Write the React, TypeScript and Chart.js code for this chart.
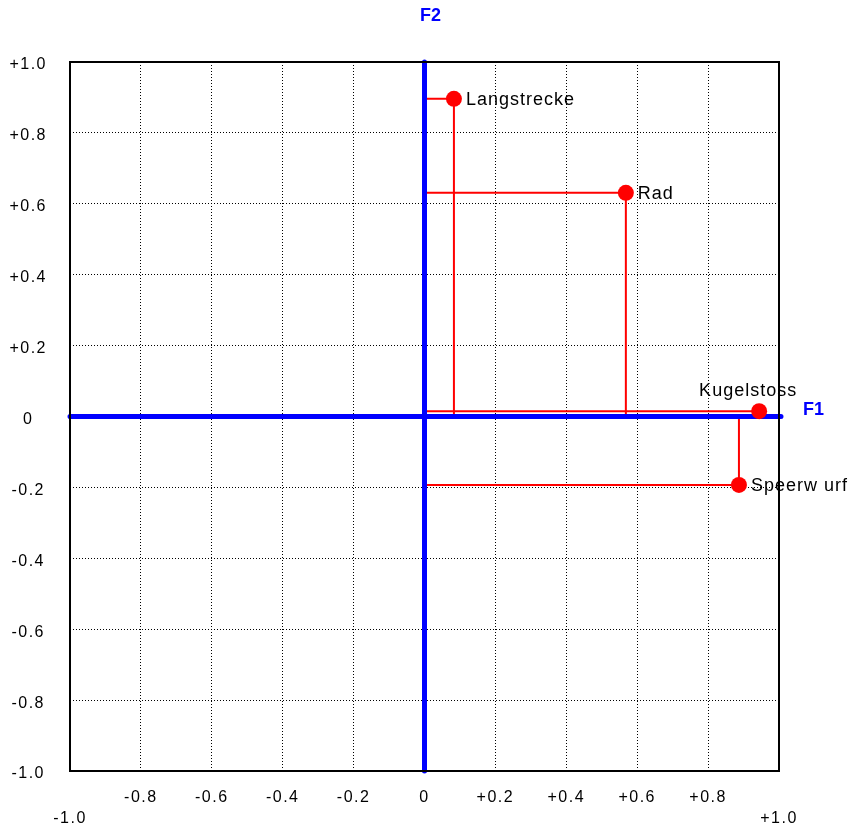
import React, { useEffect, useRef } from "react";
import { Chart, registerables } from "chart.js";

Chart.register(...registerables);

const variableNames: string[] = ["Langstrecke", "Rad", "Kugelstoss", "Speerw urf"];
const f1Loadings: number[] = [0.083, 0.568, 0.944, 0.887];
const f2Loadings: number[] = [0.896, 0.631, 0.015, -0.193];
const labelPlacement: string[] = ["right", "right", "above", "right"];
const axisTitles: string[] = ["F1", "F2"];

const FONT = '"Liberation Sans", Arial, sans-serif';

function fmt(v: number): string {
  if (Math.abs(v) < 1e-9) return "0";
  const s = Math.abs(v).toFixed(1);
  return v > 0 ? "+" + s : "-" + s;
}

const isEdge = (v: number) => Math.abs(Math.abs(v) - 1) < 1e-9;

const decorPlugin = {
  id: "decor",
  beforeDraw(chart: any) {
    chart.ctx.letterSpacing = "1.5px";
  },
  beforeDatasetDraw(chart: any, args: any) {
    if (args.index !== 0) return;
    const { ctx, chartArea, scales } = chart;
    const x0 = scales.x.getPixelForValue(0);
    const y0 = scales.y.getPixelForValue(0);
    ctx.save();
    ctx.strokeStyle = "#0000FF";
    ctx.lineWidth = 5;
    ctx.lineCap = "round";
    ctx.beginPath();
    ctx.moveTo(x0, chartArea.top);
    ctx.lineTo(x0, chartArea.bottom);
    ctx.moveTo(chartArea.left, y0);
    ctx.lineTo(chartArea.right + 2, y0);
    ctx.stroke();
    ctx.restore();
  },
  afterDatasetsDraw(chart: any) {
    const { ctx, chartArea, scales } = chart;
    ctx.save();
    // plot border
    ctx.letterSpacing = "0px";
    ctx.strokeStyle = "#000";
    ctx.lineWidth = 2;
    ctx.strokeRect(chartArea.left, chartArea.top, chartArea.right - chartArea.left, chartArea.bottom - chartArea.top);

    // point labels
    const meta = chart.getDatasetMeta(0);
    ctx.fillStyle = "#000";
    ctx.font = "18px " + FONT;
    ctx.letterSpacing = "1px";
    ctx.textBaseline = "alphabetic";
    meta.data.forEach((pt: any, i: number) => {
      const name = variableNames[i];
      if (labelPlacement[i] === "above") {
        ctx.textAlign = "center";
        ctx.fillText(name, pt.x - 11, pt.y - 15);
      } else {
        ctx.textAlign = "left";
        ctx.fillText(name, pt.x + 12, pt.y + 6);
      }
    });

    // axis titles
    ctx.fillStyle = "#0000FF";
    ctx.font = "bold 18px " + FONT;
    ctx.letterSpacing = "0px";
    ctx.textAlign = "center";
    const x0 = scales.x.getPixelForValue(0);
    const y0 = scales.y.getPixelForValue(0);
    ctx.fillText(axisTitles[1], x0 + 6, chartArea.top - 41);
    ctx.textAlign = "left";
    ctx.fillText(axisTitles[0], chartArea.right + 24, y0 - 2);
    ctx.restore();
  },
  afterDraw(chart: any) {
    chart.ctx.letterSpacing = "0px";
  },
};

export default function App() {
  const canvasRef = useRef<HTMLCanvasElement | null>(null);

  useEffect(() => {
    const canvas = canvasRef.current;
    if (!canvas) return;
    Chart.defaults.font.family = FONT;
    Chart.defaults.color = "#000";

    const pointData = f1Loadings.map((x, i) => ({ x, y: f2Loadings[i] }));
    const lineSets = f1Loadings.map((x, i) => ({
      type: "line" as const,
      data: [
        { x: 0, y: f2Loadings[i] },
        { x, y: f2Loadings[i] },
        { x, y: 0 },
      ],
      borderColor: "#FF0000",
      borderWidth: 2,
      pointRadius: 0,
      pointHoverRadius: 0,
      tension: 0,
      fill: false,
    }));

    const chart = new Chart(canvas, {
      type: "scatter",
      data: {
        datasets: [
          {
            data: pointData,
            backgroundColor: "#FF0000",
            borderColor: "#FF0000",
            borderWidth: 0,
            pointRadius: 8,
            pointHoverRadius: 8,
          } as any,
          ...(lineSets as any[]),
        ],
      },
      options: {
        responsive: false,
        animation: false,
        events: [],
        layout: { padding: { left: 0, top: 62, right: 69, bottom: 0 } },
        plugins: {
          legend: { display: false },
          tooltip: { enabled: false },
          title: { display: false },
        },
        scales: {
          x: {
            type: "linear",
            position: "bottom",
            min: -1,
            max: 1,
            afterFit: (s: any) => {
              s.height = 58;
            },
            border: { display: false, dash: [1, 2] },
            grid: {
              drawTicks: false,
              lineWidth: 1,
              color: (c: any) => (c.tick && isEdge(c.tick.value) ? "rgba(0,0,0,0)" : "#000"),
            },
            ticks: {
              stepSize: 0.2,
              padding: 16,
              maxRotation: 0,
              autoSkip: false,
              font: { size: 16, family: FONT, lineHeight: 1.3 },
              color: "#000",
              callback: (v: any) => {
                const n = Number(v);
                return isEdge(n) ? ["", fmt(n)] : fmt(n);
              },
            },
          },
          y: {
            type: "linear",
            position: "left",
            min: -1,
            max: 1,
            afterFit: (s: any) => {
              s.width = 70;
            },
            border: { display: false, dash: [1, 2] },
            grid: {
              drawTicks: false,
              lineWidth: 1,
              color: (c: any) => (c.tick && isEdge(c.tick.value) ? "rgba(0,0,0,0)" : "#000"),
            },
            ticks: {
              stepSize: 0.2,
              padding: 26,
              crossAlign: "center",
              labelOffset: 3,
              autoSkip: false,
              font: { size: 16, family: FONT },
              color: "#000",
              callback: (v: any) => fmt(Number(v)),
            },
          },
        },
      } as any,
      plugins: [decorPlugin],
    });

    return () => chart.destroy();
  }, []);

  return (
    <div style={{ position: "absolute", left: 0, top: 0, width: 848, height: 829 }}>
      <canvas ref={canvasRef} width={848} height={829} style={{ display: "block" }} />
    </div>
  );
}
